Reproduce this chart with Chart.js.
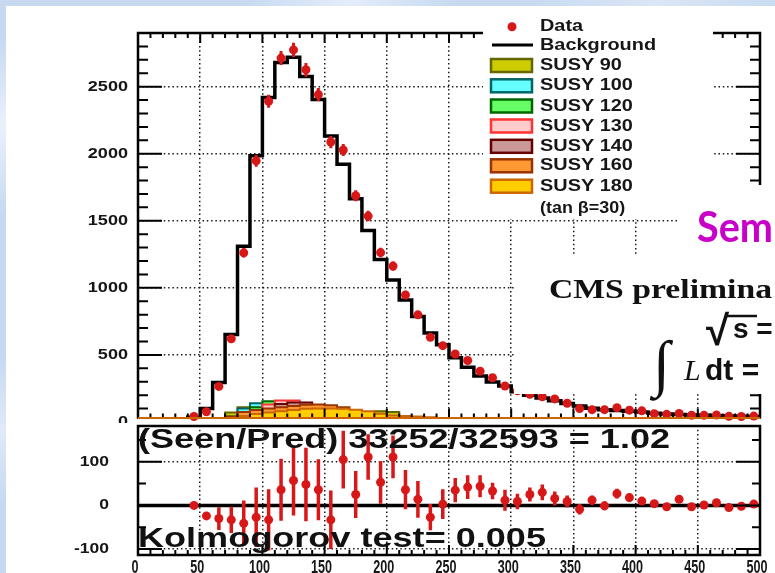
<!DOCTYPE html>
<html>
<head>
<meta charset="utf-8">
<script src="https://cdn.jsdelivr.net/npm/chart.js@4.4.1/dist/chart.umd.min.js"></script>
<style>
  html, body { margin: 0; padding: 0; }
  body {
    width: 775px; height: 573px; overflow: hidden; position: relative;
    background: #c6d9f1;
    background-image:
      radial-gradient(ellipse at 1% 22%, #eaf1fb 0, rgba(234,241,251,0) 14%),
      radial-gradient(ellipse at 0% 75%, #e0eaf8 0, rgba(224,234,248,0) 12%),
      radial-gradient(ellipse at 45% 0%, #e4edfa 0, rgba(228,237,250,0) 18%),
      radial-gradient(ellipse at 85% 0%, #dbe6f6 0, rgba(219,230,246,0) 15%);
  }
  #sheet { position: absolute; left: 6px; top: 6px; right: 0; bottom: 0; background: #fff; }
  #top { position: absolute; left: 0; top: 0; }
  #bottom { position: absolute; left: 0; top: 421px; }
</style>
</head>
<body>
<div id="sheet"></div>
<canvas id="top" width="775" height="423"></canvas>
<canvas id="bottom" width="775" height="152"></canvas>
<script>
// 10 GeV bins from 0 to 500
const binLow = Array.from({ length: 50 }, (_, i) => i * 10);
const binMid = binLow.map(b => b + 5);

// expected background per bin
const background = [0, 0, 0, 0, 35, 100, 295, 652, 1310, 1984,
  2420, 2680, 2720, 2576, 2404, 2132, 1922, 1665, 1428, 1211,
  1058, 910, 787, 663, 576, 478, 409, 342, 298, 268,
  225, 200, 178, 158, 138, 120, 102, 92, 86, 80,
  74, 66, 60, 56, 53, 50, 47, 45, 43, 41];

// observed events per bin
const observed = [null, null, null, null, 41, 76, 265, 620, 1261, 1947,
  2391, 2713, 2774, 2626, 2441, 2087, 2028, 1687, 1535, 1263,
  1162, 947, 799, 631, 569, 507, 458, 379, 330, 268,
  233, 206, 188, 172, 140, 100, 92, 92, 107, 88,
  83, 62, 57, 64, 50, 50, 52, 42, 41, 44];

// signal hypotheses (tan beta = 30)
const susy90 = [0, 0, 0, 0, 0, 0, 20, 70, 110, 125, 115, 90, 60, 40, 25, 15, 8, 0, 0, 80, 75, 40, 0, 0, 0, 0, 0, 0, 0, 0, 0, 0, 0, 0, 0, 0, 0, 0, 0, 0, 0, 0, 0, 0, 0, 0, 0, 0, 0, 0];
const susy100 = [0, 0, 0, 0, 0, 0, 0, 40, 100, 140, 135, 110, 80, 55, 35, 20, 10, 0, 0, 0, 0, 0, 0, 0, 0, 0, 0, 0, 0, 0, 0, 0, 0, 0, 0, 0, 0, 0, 0, 0, 0, 0, 0, 0, 0, 0, 0, 0, 0, 0];
const susy120 = [0, 0, 0, 0, 0, 0, 0, 0, 50, 110, 155, 150, 120, 85, 55, 35, 20, 10, 0, 0, 0, 0, 0, 0, 0, 0, 0, 0, 0, 0, 0, 0, 0, 0, 0, 0, 0, 0, 0, 0, 0, 0, 0, 0, 0, 0, 0, 0, 0, 0];
const susy130 = [0, 0, 0, 0, 0, 0, 0, 0, 0, 60, 130, 160, 160, 130, 95, 60, 35, 20, 10, 0, 0, 0, 0, 0, 0, 0, 0, 0, 0, 0, 0, 0, 0, 0, 0, 0, 0, 0, 0, 0, 0, 0, 0, 0, 0, 0, 0, 0, 0, 0];
const susy140 = [0, 0, 0, 0, 0, 0, 0, 0, 0, 0, 90, 135, 145, 145, 125, 95, 65, 40, 25, 12, 0, 0, 0, 0, 0, 0, 0, 0, 0, 0, 0, 0, 0, 0, 0, 0, 0, 0, 0, 0, 0, 0, 0, 0, 0, 0, 0, 0, 0, 0];
const susy160 = [0, 0, 0, 0, 0, 0, 0, 40, 75, 90, 100, 110, 120, 128, 130, 125, 110, 85, 60, 40, 30, 20, 12, 0, 0, 0, 0, 0, 0, 0, 0, 0, 0, 0, 0, 0, 0, 0, 0, 0, 0, 0, 0, 0, 0, 0, 0, 0, 0, 0];
const susy180 = [0, 0, 0, 0, 0, 0, 0, 20, 45, 60, 70, 80, 90, 98, 100, 100, 98, 92, 80, 62, 48, 45, 40, 35, 30, 26, 22, 18, 15, 12, 10, 0, 0, 0, 0, 0, 0, 0, 0, 0, 0, 0, 0, 0, 0, 0, 0, 0, 0, 0];

const signalNames = ['SUSY 90', 'SUSY 100', 'SUSY 120', 'SUSY 130', 'SUSY 140', 'SUSY 160', 'SUSY 180'];
const signalFill = ['#cccc00', '#66ffff', '#66ff66', '#ffcccc', '#cc9999', '#ff9933', '#ffcc00'];
const signalLine = ['#666600', '#006666', '#006600', '#ff3333', '#660000', '#993300', '#cc6600'];
const signals = [susy90, susy100, susy120, susy130, susy140, susy160, susy180];

// observed minus expected, with its uncertainty
const residual = [null, null, null, null, 0, -24, -30, -33, -41, -27,
  -33, 36, 57, 48, 36, -33, 105, 25, 111, 53,
  111, 36, 14, -27, 3, 35, 42, 44, 33, 12,
  9, 25, 30, 16, 9, -9, 12, -1, 27, 18,
  10, 4, -3, 14, -3, 1, 6, -5, -2, 3];
const residualErr = [0, 0, 0, 0, 0, 8, 26, 30, 52, 68,
  70, 71, 80, 84, 70, 67, 66, 54, 52, 49,
  49, 45, 42, 30, 34, 28, 27, 25, 19, 24,
  18, 16, 18, 16, 14, 12, 11, 10, 11, 9,
  8, 6, 5, 6, 5, 5, 5, 5, 5, 5];

const xTicks = [0, 50, 100, 150, 200, 250, 300, 350, 400, 450, 500];
const topTicks = [0, 500, 1000, 1500, 2000, 2500];
const resTicks = [-100, 0, 100];

const red = '#d81818';
const ink = '#161616';
const xMinor = binLow.concat(500);
const yMinorTop = Array.from({ length: 28 }, (_, i) => (i + 1) * 100);
const yMinorRes = [-100, -50, 0, 50, 100, 150];

function steps(vals) {
  const pts = vals.map((v, i) => ({ x: binLow[i], y: v }));
  pts.push({ x: 500, y: vals[vals.length - 1] });
  return pts;
}

// bold Helvetica-style text, stretched sideways like the original pad
function label(ctx, text, x, y, size, sx, align, baseline) {
  ctx.save();
  ctx.font = `bold ${size}px "Liberation Sans", Arial, sans-serif`;
  ctx.fillStyle = ink;
  ctx.textBaseline = baseline || 'middle';
  ctx.textAlign = 'left';
  const w = ctx.measureText(text).width * sx;
  const x0 = align === 'right' ? x - w : align === 'center' ? x - w / 2 : x;
  ctx.translate(x0, y);
  ctx.scale(sx, 1);
  ctx.fillText(text, 0, 0);
  ctx.restore();
}

function fitText(ctx, text, x, y, size, width, family, color, weight) {
  ctx.save();
  ctx.font = `${weight} ${size}px ${family}`;
  ctx.fillStyle = color;
  ctx.textBaseline = 'alphabetic';
  ctx.textAlign = 'left';
  const sx = width / ctx.measureText(text).width;
  ctx.translate(x, y);
  ctx.scale(sx, 1);
  ctx.fillText(text, 0, 0);
  ctx.restore();
}

function dotted() {
  return { color: '#1a1a1a', lineWidth: 1.5, drawTicks: false };
}

const topDecor = {
  id: 'topDecor',
  afterDatasetsDraw(chart) {
    const { ctx, chartArea: a, scales: { x, y } } = chart;
    ctx.save();
    ctx.beginPath();
    ctx.rect(a.left, a.top, a.right - a.left, a.bottom - a.top + 2);
    ctx.clip();
    ctx.strokeStyle = red;
    ctx.lineWidth = 3;
    ctx.beginPath();
    observed.forEach((v, i) => {
      if (v == null) return;
      const e = Math.sqrt(v);
      const px = x.getPixelForValue(binMid[i]);
      ctx.moveTo(px, y.getPixelForValue(v - e));
      ctx.lineTo(px, y.getPixelForValue(v + e));
    });
    ctx.stroke();
    ctx.restore();
  },
  afterDraw(chart) {
    const { ctx, chartArea: a, scales: { x, y } } = chart;
    ctx.save();
    // frame
    ctx.strokeStyle = '#000';
    ctx.lineWidth = 2.5;
    ctx.beginPath();
    ctx.moveTo(a.left, a.bottom);
    ctx.lineTo(a.left, a.top);
    ctx.lineTo(a.right, a.top);
    ctx.lineTo(a.right, a.bottom);
    ctx.stroke();
    // inward ticks
    ctx.lineWidth = 2;
    ctx.beginPath();
    yMinorTop.forEach(v => {
      const p = y.getPixelForValue(v);
      const len = v % 500 ? 10 : 24;
      ctx.moveTo(a.left, p); ctx.lineTo(a.left + len, p);
      ctx.moveTo(a.right, p); ctx.lineTo(a.right - len, p);
    });
    xMinor.forEach(v => {
      const p = x.getPixelForValue(v);
      const len = v % 50 ? 5 : 10;
      ctx.moveTo(p, a.top); ctx.lineTo(p, a.top + len);
      ctx.moveTo(p, a.bottom); ctx.lineTo(p, a.bottom - len);
    });
    ctx.stroke();
    ctx.strokeStyle = '#cc6600';
    ctx.lineWidth = 2;
    ctx.beginPath();
    ctx.moveTo(a.left, a.bottom - 0.5);
    ctx.lineTo(a.right, a.bottom - 0.5);
    ctx.stroke();

    topTicks.forEach(v => label(ctx, String(v), 128, y.getPixelForValue(v), 14, 1.29, 'right'));

    // legend panel and text boxes sit on top of the frame
    ctx.fillStyle = '#fff';
    ctx.fillRect(483, 6, 230, 213);
    ctx.fillRect(677, 185, 98, 70);
    ctx.fillRect(514, 255, 261, 139);

    const rowY = [26.7, 45, 65.5, 85.8, 106, 126, 146.3, 165.8, 186.2];
    ctx.fillStyle = red;
    ctx.beginPath();
    ctx.arc(512, rowY[0], 4.5, 0, Math.PI * 2);
    ctx.fill();
    ctx.strokeStyle = '#000';
    ctx.lineWidth = 3;
    ctx.beginPath();
    ctx.moveTo(492, rowY[1]);
    ctx.lineTo(533, rowY[1]);
    ctx.stroke();
    signals.forEach((s, k) => {
      const cy = rowY[k + 2];
      ctx.fillStyle = signalFill[k];
      ctx.fillRect(491, cy - 6.5, 41, 13);
      ctx.strokeStyle = signalLine[k];
      ctx.lineWidth = 2.5;
      ctx.strokeRect(491, cy - 6.5, 41, 13);
    });
    label(ctx, 'Data', 540, rowY[0], 17, 1.17, 'left');
    label(ctx, 'Background', 540, rowY[1], 17, 1.17, 'left');
    signalNames.forEach((n, k) => label(ctx, n, 540, rowY[k + 2], 17, 1.17, 'left'));
    label(ctx, '(tan \u03b2=30)', 540, 208.3, 16, 1.12, 'left');

    // slide annotations
    fitText(ctx, 'Sem', 697, 242, 42, 76, 'Lato, "Open Sans", sans-serif', '#c800c8', 'bold');
    fitText(ctx, 'CMS prelimina', 549, 298, 28, 223, '"Liberation Serif", serif', '#111', 'bold');
    ctx.fillStyle = '#111';
    ctx.textBaseline = 'alphabetic';
    ctx.font = 'bold 42px "Liberation Sans", sans-serif';
    ctx.fillText('\u221a', 706, 345);
    ctx.font = 'bold 28px "Liberation Sans", sans-serif';
    ctx.fillText('s =', 733, 338);
    ctx.strokeStyle = '#111';
    ctx.lineWidth = 2.5;
    ctx.beginPath();
    ctx.moveTo(727, 316);
    ctx.lineTo(757, 316);
    ctx.stroke();
    ctx.font = '62px "Liberation Serif", serif';
    ctx.fillText('\u222b', 653, 384);
    ctx.font = 'italic 30px "Liberation Serif", serif';
    ctx.fillText('L', 684, 380);
    ctx.font = 'bold 30px "Liberation Sans", sans-serif';
    ctx.fillText('dt =', 705, 380);
    ctx.restore();
  }
};

const bottomDecor = {
  id: 'bottomDecor',
  beforeDatasetsDraw(chart) {
    const { ctx, chartArea: a, scales: { x, y } } = chart;
    ctx.save();
    ctx.strokeStyle = '#000';
    ctx.lineWidth = 3.5;
    ctx.beginPath();
    ctx.moveTo(a.left, y.getPixelForValue(0));
    ctx.lineTo(a.right, y.getPixelForValue(0));
    ctx.stroke();
    ctx.beginPath();
    ctx.rect(a.left, a.top, a.right - a.left, a.bottom - a.top);
    ctx.clip();
    ctx.strokeStyle = red;
    ctx.lineWidth = 3.5;
    ctx.beginPath();
    residual.forEach((v, i) => {
      if (v == null || !residualErr[i]) return;
      const px = x.getPixelForValue(binMid[i]);
      ctx.moveTo(px, y.getPixelForValue(v - residualErr[i]));
      ctx.lineTo(px, y.getPixelForValue(v + residualErr[i]));
    });
    ctx.stroke();
    ctx.restore();
  },
  afterDraw(chart) {
    const { ctx, chartArea: a, scales: { x, y } } = chart;
    ctx.save();
    ctx.strokeStyle = '#000';
    ctx.lineWidth = 2.5;
    ctx.strokeRect(a.left, a.top + 0.5, a.right - a.left, a.bottom - a.top - 0.5);
    ctx.lineWidth = 2;
    ctx.beginPath();
    yMinorRes.forEach(v => {
      const p = y.getPixelForValue(v);
      const len = v % 100 ? 8 : 24;
      ctx.moveTo(a.left, p); ctx.lineTo(a.left + len, p);
      ctx.moveTo(a.right, p); ctx.lineTo(a.right - len, p);
    });
    xMinor.forEach(v => {
      const p = x.getPixelForValue(v);
      const len = v % 50 ? 5 : 10;
      ctx.moveTo(p, a.bottom); ctx.lineTo(p, a.bottom - len);
    });
    ctx.stroke();

    resTicks.forEach(v => label(ctx, String(v), 109, y.getPixelForValue(v), 14, 1.25, 'right'));
    xTicks.forEach(v => label(ctx, String(v), x.getPixelForValue(v) - 3, 152, 18, 0.7, 'center', 'alphabetic'));

    fitText(ctx, '(Seen/Pred) 33252/32593 = 1.02', 138, 27, 27, 532, '"Liberation Sans", Arial, sans-serif', '#111', 'bold');
    fitText(ctx, 'Kolmogorov test= 0.005', 138, 125.7, 28, 408, '"Liberation Sans", Arial, sans-serif', '#111', 'bold');
    ctx.restore();
  }
};

const xScale = {
  type: 'linear', min: 0, max: 500,
  afterFit: s => { s.height = 0; },
  afterBuildTicks: s => { s.ticks = xTicks.map(v => ({ value: v })); },
  ticks: { display: false },
  grid: dotted(),
  border: { display: false, dash: [1.5, 2.8] }
};

new Chart(document.getElementById('top'), {
  type: 'line',
  data: {
    datasets: [
      {
        label: 'Data',
        data: binMid.map((x, i) => ({ x, y: observed[i] })),
        showLine: false,
        pointRadius: 4.5,
        pointBackgroundColor: red,
        pointBorderWidth: 0,
        order: 0,
        clip: 6
      },
      {
        label: 'Background',
        data: steps(background),
        stepped: true,
        borderColor: '#000',
        borderWidth: 3.5,
        pointRadius: 0,
        fill: false,
        order: 1,
        clip: 0
      },
      ...signals.map((s, k) => ({
        label: signalNames[k],
        data: steps(s),
        stepped: true,
        borderColor: signalLine[k],
        backgroundColor: signalFill[k],
        borderWidth: 2,
        pointRadius: 0,
        fill: 'origin',
        order: 8 - k,
        clip: 0
      }))
    ]
  },
  options: {
    responsive: false,
    animation: false,
    events: [],
    layout: { padding: { left: 138, right: 15, top: 33, bottom: 2 } },
    plugins: { legend: { display: false }, tooltip: { enabled: false } },
    scales: {
      x: xScale,
      y: {
        type: 'linear', min: 26, max: 2900,
        afterFit: s => { s.width = 0; },
        afterBuildTicks: s => { s.ticks = topTicks.slice(1).map(v => ({ value: v })); },
        ticks: { display: false },
        grid: dotted(),
        border: { display: false, dash: [1.5, 2.8] }
      }
    }
  },
  plugins: [topDecor]
});

new Chart(document.getElementById('bottom'), {
  type: 'line',
  data: {
    datasets: [{
      label: 'Seen - Pred',
      data: binMid.map((x, i) => ({ x, y: residual[i] })),
      showLine: false,
      pointRadius: 4.5,
      pointBackgroundColor: red,
      pointBorderWidth: 0,
      clip: 4
    }]
  },
  options: {
    responsive: false,
    animation: false,
    events: [],
    layout: { padding: { left: 138, right: 15, top: 2, bottom: 18 } },
    plugins: { legend: { display: false }, tooltip: { enabled: false } },
    scales: {
      x: Object.assign({}, xScale),
      y: {
        type: 'linear', min: -113.5, max: 183,
        afterFit: s => { s.width = 0; },
        afterBuildTicks: s => { s.ticks = resTicks.map(v => ({ value: v })); },
        ticks: { display: false },
        grid: dotted(),
        border: { display: false, dash: [1.5, 2.8] }
      }
    }
  },
  plugins: [bottomDecor]
});
</script>
</body>
</html>
